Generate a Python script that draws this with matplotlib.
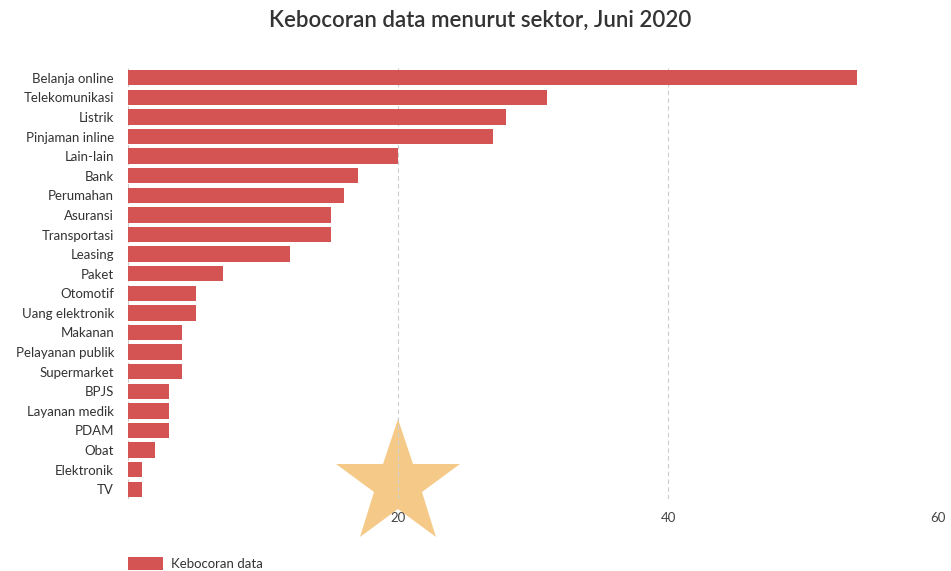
import numpy as np
import matplotlib.pyplot as plt

plt.rcParams['font.family'] = ['Lato', 'DejaVu Sans']

# data
sektor = ['Belanja online', 'Telekomunikasi', 'Listrik', 'Pinjaman inline',
          'Lain-lain', 'Bank', 'Perumahan', 'Asuransi', 'Transportasi',
          'Leasing', 'Paket', 'Otomotif', 'Uang elektronik', 'Makanan',
          'Pelayanan publik', 'Supermarket', 'BPJS', 'Layanan medik', 'PDAM',
          'Obat', 'Elektronik', 'TV']
kebocoran = [54, 31, 28, 27, 20, 17, 16, 15, 15, 12, 7, 5, 5, 4, 4, 4, 3, 3, 3,
             2, 1, 1]
xticks = [20, 40, 60]

bar_color = '#d45353'
text_color = '#333333'

fig = plt.figure(figsize=(9.51, 5.71), dpi=100)
ax = fig.add_axes([0.1346, 0.126, 0.8518, 0.755])

y = np.arange(len(sektor))
ax.barh(y, kebocoran, height=0.78, color=bar_color, label='Kebocoran data',
        zorder=3)
ax.set_yticks(y)
ax.set_yticklabels(sektor, fontsize=9.5, color=text_color)
ax.set_ylim(len(sektor) - 0.5, -0.5)
ax.set_xlim(0, 60)
ax.set_xticks(xticks)
ax.set_xticklabels([str(v) for v in xticks], fontsize=9.5, color='#444444')
ax.tick_params(axis='both', length=0)
ax.tick_params(axis='y', pad=10)
ax.tick_params(axis='x', pad=9)

# dashed vertical gridlines
for v in [0] + xticks:
    ax.axvline(v, color='#cccccc', linestyle=(0, (4, 3)), linewidth=0.8,
               zorder=1)
for s in ax.spines.values():
    s.set_visible(False)

fig.text(0.505, 0.965, 'Kebocoran data menurut sektor, Juni 2020',
         ha='center', va='center', fontsize=16, color=text_color,
         fontweight='semibold')

ax.legend(loc='lower left', bbox_to_anchor=(0.1346 - 0.006, -0.008),
          bbox_transform=fig.transFigure, frameon=False, fontsize=9.5,
          handlelength=2.7, handleheight=1.1, handletextpad=0.6,
          borderaxespad=0, labelcolor=text_color)

# star overlay (behind grid and tick labels)
ax.plot([0.418], [0.152], marker='*', markersize=94, color='#f5c67e',
        markeredgewidth=0, alpha=0.92, transform=fig.transFigure,
        clip_on=False, zorder=0.5)

fig.savefig('out.png', dpi=100)
